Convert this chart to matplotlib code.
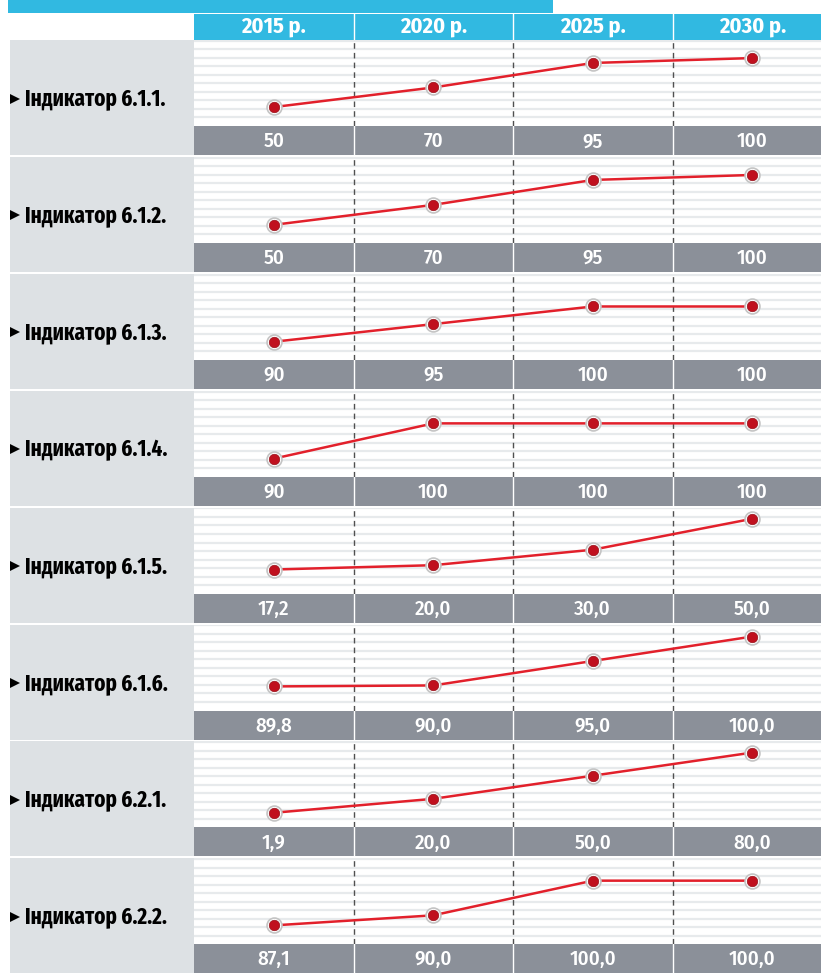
import matplotlib
matplotlib.use("Agg")
import matplotlib.pyplot as plt
from matplotlib.patches import Rectangle

plt.rcParams['font.family'] = ['Fira Sans Extra Condensed', 'DejaVu Sans']
COND = ['Fira Sans Condensed', 'DejaVu Sans']

# ---- data ----
years = ["2015 р.", "2020 р.", "2025 р.", "2030 р."]
indicators = ["Індикатор 6.1.1.", "Індикатор 6.1.2.", "Індикатор 6.1.3.",
              "Індикатор 6.1.4.", "Індикатор 6.1.5.", "Індикатор 6.1.6.",
              "Індикатор 6.2.1.", "Індикатор 6.2.2."]
ind_611 = [50, 70, 95, 100]
ind_612 = [50, 70, 95, 100]
ind_613 = [90, 95, 100, 100]
ind_614 = [90, 100, 100, 100]
ind_615 = [17.2, 20.0, 30.0, 50.0]
ind_616 = [89.8, 90.0, 95.0, 100.0]
ind_621 = [1.9, 20.0, 50.0, 80.0]
ind_622 = [87.1, 90.0, 100.0, 100.0]
decimals = [0, 0, 0, 0, 1, 1, 1, 1]
series = [ind_611, ind_612, ind_613, ind_614, ind_615, ind_616, ind_621, ind_622]

# where min / max of each row sit inside its plot strip (fraction of height)
row_span = [(0.22, 0.79), (0.21, 0.79), (0.21, 0.62), (0.21, 0.62),
            (0.28, 0.87), (0.28, 0.86), (0.17, 0.87), (0.22, 0.74)]

# ---- layout (pixels) ----
W, H = 821, 974
col_x0, col_w = 194, 159.5
lab_x0 = 10
row_top0, row_pitch = 40, 116.9
plot_h, bar_h = 86, 29

CYAN = "#31b9e1"
LABEL_BG = "#dde1e4"
BAR_BG = "#8b9099"
GRID = "#e7eaec"
RED_LINE = "#e2202b"
RED_DOT = "#c0101e"

fig = plt.figure(figsize=(W / 100, H / 100), dpi=100)
bg = fig.add_axes([0, 0, 1, 1])
bg.set_xlim(0, W)
bg.set_ylim(H, 0)
bg.axis("off")

# top bar and header
bg.add_patch(Rectangle((8, 0), 545, 13, color=CYAN, lw=0))
bg.add_patch(Rectangle((col_x0, 14), W - col_x0, 25.5, color=CYAN, lw=0))
for i, y in enumerate(years):
    cx = col_x0 + (i + 0.5) * col_w
    bg.text(cx, 26.5, y, color="white", fontsize=16, weight="bold",
            family=COND, ha="center", va="center")
    if i > 0:
        bg.plot([col_x0 + i * col_w] * 2, [14, 39.5], color="white", lw=1)

for r, (name, vals) in enumerate(zip(indicators, series)):
    top = row_top0 + r * row_pitch
    bottom = top + plot_h + bar_h
    # label cell
    bg.add_patch(Rectangle((lab_x0, top), col_x0 - lab_x0, plot_h + bar_h,
                           color=LABEL_BG, lw=0))
    cy = (top + bottom) / 2 + 1
    bg.plot(14.5, cy, marker=">", ms=6.5, color="black", mew=0)
    bg.text(25, cy, name, fontsize=16.5, weight="bold", color="black",
            ha="left", va="center")
    # value strip
    bg.add_patch(Rectangle((col_x0, top + plot_h), W - col_x0, bar_h,
                           color=BAR_BG, lw=0))
    for i, v in enumerate(vals):
        cx = col_x0 + (i + 0.5) * col_w
        txt = f"{v:.{decimals[r]}f}".replace(".", ",")
        bg.text(cx, top + plot_h + bar_h / 2 + 1, txt, color="white",
                fontsize=15, weight=500, family=COND,
                ha="center", va="center")
        if i > 0:
            bg.plot([col_x0 + i * col_w] * 2, [top + plot_h, bottom],
                    color="white", lw=1)

    # plot strip
    ax = fig.add_axes([col_x0 / W, 1 - (top + plot_h) / H,
                       (W - col_x0) / W, plot_h / H])
    ax.set_xlim(0, (W - col_x0) / col_w)
    lo, hi = min(vals), max(vals)
    flo, fhi = row_span[r]
    span = (hi - lo) / (fhi - flo)
    ymin = lo - flo * span
    ax.set_ylim(ymin, ymin + span)
    ax.axis("off")
    ax.patch.set_visible(True)
    ax.set_facecolor("white")
    for k in range(1, 11):
        ax.plot([0, 1], [k / 10.1, k / 10.1], transform=ax.transAxes,
                color=GRID, lw=1.6, zorder=1)
    for i in range(1, 4):
        ax.axvline(i, color="#505050", lw=1, ls=(0, (4, 3)), zorder=2)
    xs = [i + 0.5 for i in range(len(vals))]
    ax.plot(xs, vals, color=RED_LINE, lw=1.8, zorder=3)
    ax.scatter(xs, vals, s=115, c="white", edgecolors="#c4c4c4",
               linewidths=1.2, zorder=4, clip_on=False)
    ax.scatter(xs, vals, s=58, c=RED_DOT, edgecolors="#8a0a12",
               linewidths=0.4, zorder=5, clip_on=False)

fig.savefig("out.png", dpi=100, facecolor="white")
